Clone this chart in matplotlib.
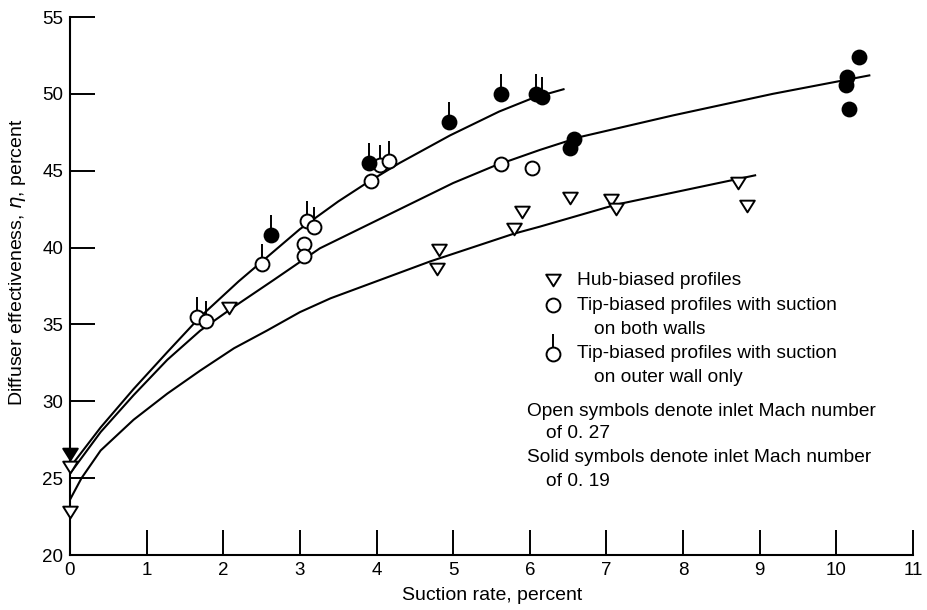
import numpy as np
import matplotlib
matplotlib.use("Agg")
import matplotlib.pyplot as plt
from matplotlib.path import Path

plt.rcParams['font.family'] = ['Liberation Sans', 'DejaVu Sans']

# hub-biased profiles (triangles)
hub_x = [0, 0, 2.07, 4.82, 4.79, 5.80, 5.90, 6.53, 7.06, 7.13, 8.72, 8.83]
hub_y = [25.7, 22.8, 36.1, 39.85, 38.6, 41.2, 42.3, 43.25, 43.1, 42.5, 44.2, 42.7]
hub_solid_x = [0]
hub_solid_y = [26.6]

# tip-biased, suction on both walls (plain circles)
both_open_x = [3.05, 3.05, 3.93, 5.63, 6.03]
both_open_y = [40.2, 39.45, 44.35, 45.45, 45.2]
both_solid_x = [6.58, 6.52, 10.30, 10.14, 10.12, 10.17]
both_solid_y = [47.05, 46.45, 52.4, 51.1, 50.6, 49.0]

# tip-biased, suction on outer wall only (circles with flag)
outer_open_x = [1.66, 1.77, 2.51, 3.09, 3.18, 4.05, 4.16]
outer_open_y = [35.47, 35.25, 38.9, 41.7, 41.35, 45.4, 45.6]
outer_solid_x = [2.62, 3.90, 4.95, 5.63, 6.08, 6.16]
outer_solid_y = [40.8, 45.5, 48.2, 50.0, 50.0, 49.8]

# faired curves
top_x = [0, 0.4, 0.83, 1.27, 1.7, 2.2, 2.6, 3.0, 3.5, 3.87, 4.3, 4.96, 5.6, 6.05, 6.44]
top_y = [25.7, 28.3, 30.8, 33.2, 35.5, 37.8, 39.5, 41.2, 43.0, 44.2, 45.5, 47.3, 48.85, 49.75, 50.3]
mid_x = [0, 0.4, 0.83, 1.27, 1.7, 2.14, 2.66, 3.26, 4.14, 5.0, 5.53, 6.13, 6.66, 7.87, 9.17, 10.43]
mid_y = [25.3, 28.0, 30.4, 32.7, 34.6, 36.15, 37.9, 39.95, 42.1, 44.2, 45.3, 46.35, 47.2, 48.6, 50.0, 51.2]
bot_x = [0, 0.15, 0.4, 0.83, 1.27, 1.7, 2.14, 2.57, 3.0, 3.4, 4.7, 5.79, 6.13, 7.13, 8.94]
bot_y = [23.6, 25.0, 26.8, 28.8, 30.5, 32.0, 33.45, 34.6, 35.8, 36.7, 39.1, 40.9, 41.36, 42.8, 44.7]

xticks = list(range(0, 12))
yticks = list(range(20, 60, 5))

tri = Path([(-1, 0.8), (1, 0.8), (0, -0.8), (-1, 0.8)],
           [Path.MOVETO, Path.LINETO, Path.LINETO, Path.CLOSEPOLY])
flag = Path([(0, 0.35), (0, 1.0)], [Path.MOVETO, Path.LINETO])

W, H = 928, 610
fig = plt.figure(figsize=(W / 100, H / 100), dpi=100)
ax = fig.add_axes([70 / W, 55 / H, 843 / W, 538 / H])

lw = 1.5
for x, y in [(top_x, top_y), (mid_x, mid_y), (bot_x, bot_y)]:
    ax.plot(x, y, color='k', lw=lw, zorder=2, solid_joinstyle='round')

ms_c = 10
ms_t = 10.5
ax.plot(hub_x, hub_y, ls='', marker=tri, ms=ms_t, mfc='white', mec='k', mew=1.4, clip_on=False, zorder=3)
ax.plot(hub_solid_x, hub_solid_y, ls='', marker=tri, ms=ms_t, mfc='k', mec='k', mew=1.4, clip_on=False, zorder=4)
ax.plot(both_open_x, both_open_y, ls='', marker='o', ms=ms_c, mfc='white', mec='k', mew=1.4, zorder=3)
ax.plot(both_solid_x, both_solid_y, ls='', marker='o', ms=ms_c, mfc='k', mec='k', mew=1.4, zorder=3)
ax.plot(outer_open_x, outer_open_y, ls='', marker='o', ms=ms_c, mfc='white', mec='k', mew=1.4, zorder=3)
ax.plot(outer_solid_x, outer_solid_y, ls='', marker='o', ms=ms_c, mfc='k', mec='k', mew=1.4, zorder=3)
ax.plot(outer_open_x + outer_solid_x, outer_open_y + outer_solid_y, ls='',
        marker=flag, ms=28.8, mec='k', mew=1.4, zorder=3)

ax.set_xlim(0, 11)
ax.set_ylim(20, 55)
ax.set_xticks(xticks)
ax.set_yticks(yticks)
ax.spines['top'].set_visible(False)
ax.spines['right'].set_visible(False)
ax.spines['left'].set_linewidth(1.5)
ax.spines['bottom'].set_linewidth(1.5)
ax.tick_params(direction='in', length=18, width=1.4, labelsize=13.5, pad=5)

fig.text(492 / W, 1 - 596 / H, 'Suction rate, percent', ha='center', va='center', fontsize=14)
fig.text(18 / W, 1 - 262 / H, r'Diffuser effectiveness, $\eta$, percent', ha='center', va='center',
         rotation=90, fontsize=14)

# legend block
def fx(px):
    return px / W

def fy(py):
    return 1 - py / H

leg = [
    (553, 280, tri, 'white', False),
    (553, 305, 'o', 'white', False),
    (553, 354, 'o', 'white', True),
]
for px, py, m, fc, flagged in leg:
    ax.plot([fx(px)], [fy(py)], transform=fig.transFigure, ls='', marker=m,
            ms=ms_c if m == 'o' else ms_t, mfc=fc, mec='k', mew=1.4, clip_on=False)
    if flagged:
        ax.plot([fx(px)], [fy(py)], transform=fig.transFigure, ls='', marker=flag,
                ms=28.8, mec='k', mew=1.4, clip_on=False)

texts = [
    (577, 280, 'Hub-biased profiles'),
    (577, 305, 'Tip-biased profiles with suction'),
    (594, 329, 'on both walls'),
    (577, 353, 'Tip-biased profiles with suction'),
    (594, 377, 'on outer wall only'),
    (527, 411, 'Open symbols denote inlet Mach number'),
    (546, 434, 'of 0. 27'),
    (527, 458, 'Solid symbols denote inlet Mach number'),
    (546, 482, 'of 0. 19'),
]
for px, py, s in texts:
    fig.text(fx(px), fy(py), s, ha='left', va='center', fontsize=13.8)

fig.savefig('out.png', dpi=100)
